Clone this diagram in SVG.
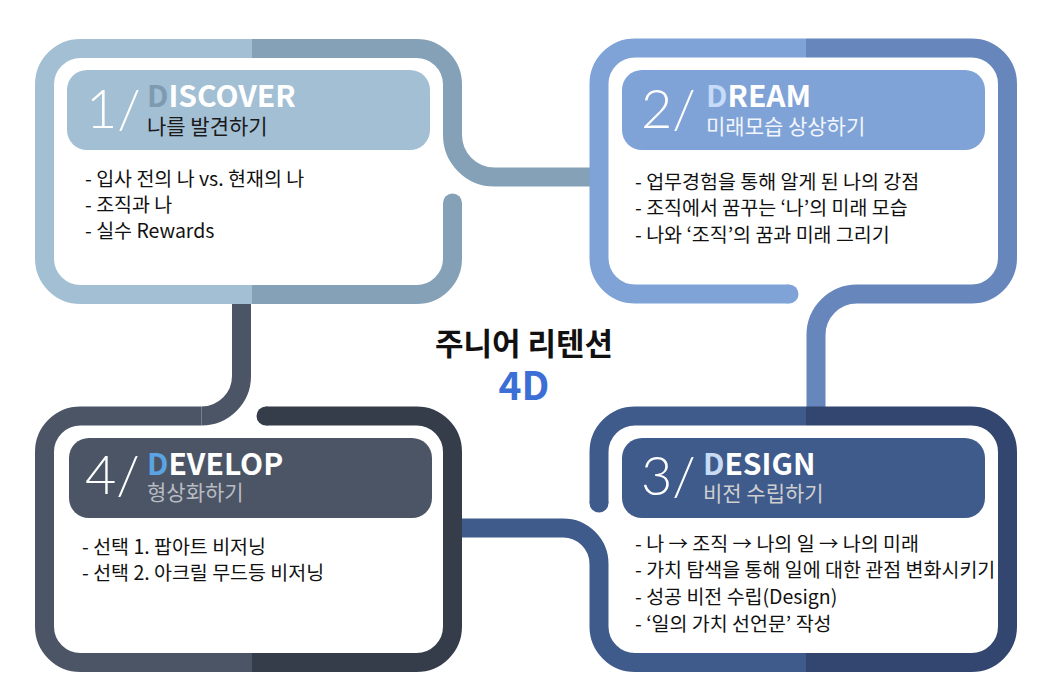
<svg xmlns="http://www.w3.org/2000/svg" width="1050" height="700" viewBox="0 0 1050 700">
<style>
.s{fill:none;stroke-width:19;stroke-linecap:butt;stroke-linejoin:round}
.num{font-family:Lato,Roboto,"Open Sans",sans-serif;font-weight:300;font-size:54px;fill:#ffffff}
.ttl{font-family:"Noto Sans CJK KR","Noto Sans",sans-serif;font-weight:700;font-size:30px;fill:#ffffff}
.sub{font-family:"Noto Sans CJK KR",sans-serif;font-size:21px}
.bl{font-family:"Noto Sans CJK KR",sans-serif;font-size:19.5px;fill:#111111}
.p1a{stroke:#a3bfd4}.p1b{stroke:#84a1b7}
.p2a{stroke:#7fa3d7}.p2b{stroke:#6686bc}
.p3a{stroke:#3f5b8b}.p3b{stroke:#33466f}
.p4a{stroke:#4b5566}.p4b{stroke:#363d4a}
</style>
<rect width="1050" height="700" fill="#ffffff"/>
<g id="connectors">
  <path class="s p1b" d="M452.5,135 A42,42 0 0 0 494.5,177 H600"/>
  <path class="s p2b" d="M857,294 A41,41 0 0 0 816,335 V417"/>
  <path class="s p3a" d="M452.5,528 H563 A36,36 0 0 1 599,564"/>
  <path class="s p4a" d="M241.5,294.5 V376 A40,40 0 0 1 201.5,416"/>
</g>
<g id="node1">
  <path class="s p1a" d="M252,48.5 H80.5 A36,36 0 0 0 44.5,84.5 V258.5 A36,36 0 0 0 80.5,294.5 H252"/>
  <path class="s p1b" d="M252,48.5 H416.5 A36,36 0 0 1 452.5,84.5 V135"/>
  <path class="s p1b" d="M452.5,203 V258.5 A36,36 0 0 1 416.5,294.5 H252"/>
  <circle cx="452.5" cy="203" r="9.5" fill="#84a1b7"/>
  <rect x="67" y="70" width="363" height="80" rx="20" fill="#a3bfd4"/>
  <text class="num" x="86" y="128">1/</text>
  <text class="ttl" x="147" y="107"><tspan fill="#7d9ab1">D</tspan>ISCOVER</text>
  <text class="sub" x="147" y="134" fill="#1a1a1a">나를 발견하기</text>
  <text class="bl" x="85" y="186">- 입사 전의 나 vs. 현재의 나</text>
  <text class="bl" x="85" y="212">- 조직과 나</text>
  <text class="bl" x="85" y="238">- 실수 Rewards</text>
</g>
<g id="node2">
  <path class="s p2a" d="M806,48 H635 A36,36 0 0 0 599,84 V258 A36,36 0 0 0 635,294 H789"/>
  <circle cx="789" cy="294" r="9.5" fill="#7fa3d7"/>
  <path class="s p2b" d="M806,48 H971.5 A36,36 0 0 1 1007.5,84 V258 A36,36 0 0 1 971.5,294 H857"/>
  <rect x="622" y="70" width="363" height="80" rx="20" fill="#7fa3d7"/>
  <text class="num" x="641" y="128">2/</text>
  <text class="ttl" x="706" y="107"><tspan fill="#c6dbf7">D</tspan>REAM</text>
  <text class="sub" x="706" y="134" fill="#f2f6fc">미래모습 상상하기</text>
  <text class="bl" x="635" y="189">- 업무경험을 통해 알게 된 나의 강점</text>
  <text class="bl" x="635" y="215">- 조직에서 꿈꾸는 ‘나’의 미래 모습</text>
  <text class="bl" x="635" y="242">- 나와 ‘조직’의 꿈과 미래 그리기</text>
</g>
<g id="node3">
  <path class="s p3a" d="M599,503 V452 A36,36 0 0 1 635,416 H806"/>
  <circle cx="599" cy="503" r="9.5" fill="#3f5b8b"/>
  <path class="s p3a" d="M599,564 V626.5 A36,36 0 0 0 635,662.5 H806"/>
  <path class="s p3b" d="M806,416 H971.5 A36,36 0 0 1 1007.5,452 V626.5 A36,36 0 0 1 971.5,662.5 H806"/>
  <rect x="622" y="438" width="363" height="80" rx="20" fill="#3f5b8b"/>
  <text class="num" x="641" y="495">3/</text>
  <text class="ttl" x="703" y="475"><tspan fill="#c7dbf5">D</tspan>ESIGN</text>
  <text class="sub" x="703" y="501" fill="#cfcfcf">비전 수립하기</text>
  <text class="bl" x="635" y="551">- 나 → 조직 → 나의 일 → 나의 미래</text>
  <text class="bl" x="635" y="577">- 가치 탐색을 통해 일에 대한 관점 변화시키기</text>
  <text class="bl" x="635" y="604">- 성공 비전 수립(Design)</text>
  <text class="bl" x="635" y="631">- ‘일의 가치 선언문’ 작성</text>
</g>
<g id="node4">
  <path class="s p4a" d="M201.5,416 H80.5 A36,36 0 0 0 44.5,452 V626.5 A36,36 0 0 0 80.5,662.5 H252"/>
  <path class="s p4b" d="M266,416 H416.5 A36,36 0 0 1 452.5,452 V626.5 A36,36 0 0 1 416.5,662.5 H252"/>
  <circle cx="266" cy="416" r="9.5" fill="#363d4a"/>
  <rect x="69" y="438" width="363" height="80" rx="20" fill="#4b5566"/>
  <text class="num" x="85" y="494">4/</text>
  <text class="ttl" x="147" y="475"><tspan fill="#5ba3e3">D</tspan>EVELOP</text>
  <text class="sub" x="147" y="500" fill="#b9bcc2">형상화하기</text>
  <text class="bl" x="82" y="554">- 선택 1. 팝아트 비저닝</text>
  <text class="bl" x="82" y="580">- 선택 2. 아크릴 무드등 비저닝</text>
</g>
<g id="center">
  <text x="524" y="355" text-anchor="middle" font-family="'Noto Sans CJK KR',sans-serif" font-weight="700" font-size="31" fill="#111111">주니어 리텐션</text>
  <text x="524" y="400" text-anchor="middle" font-family="'Noto Sans CJK KR','Noto Sans',sans-serif" font-weight="700" font-size="39" fill="#3b6fd6">4D</text>
</g>
</svg>
